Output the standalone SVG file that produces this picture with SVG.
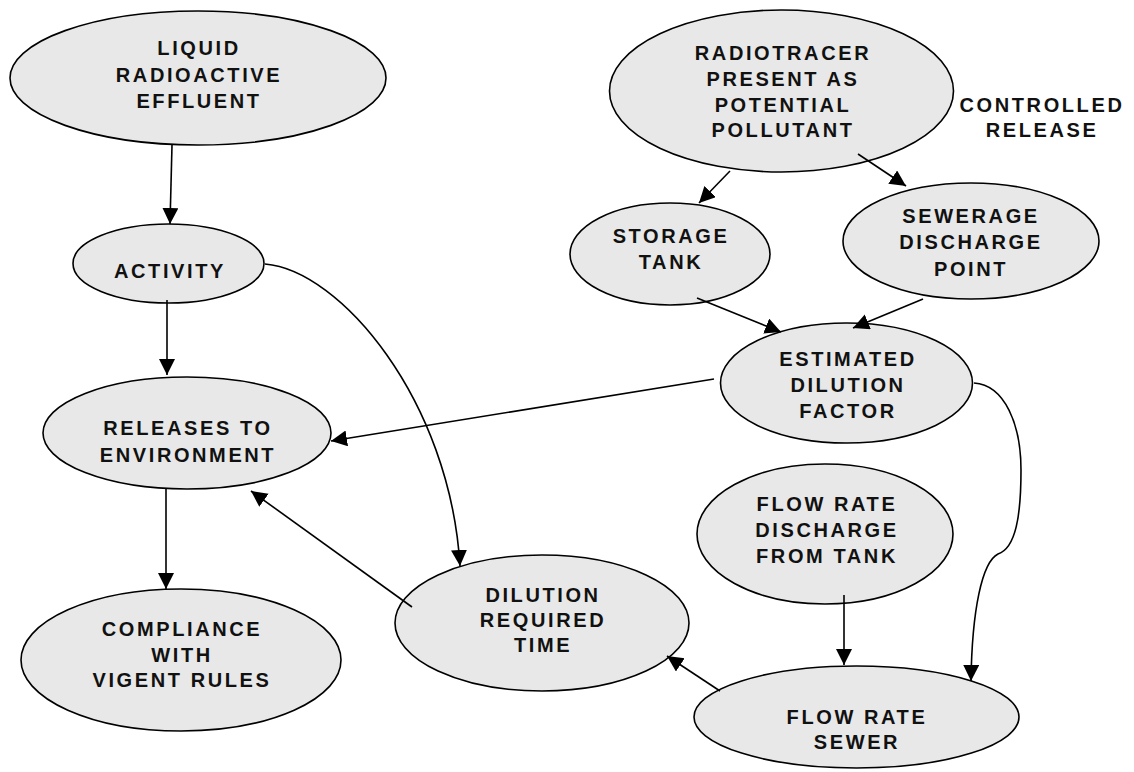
<svg xmlns="http://www.w3.org/2000/svg" width="1134" height="772" viewBox="0 0 1134 772">
<style>
.n{fill:#e8e8e8;stroke:#000;stroke-width:1.6}
.t{font-family:"Liberation Sans",Arial,sans-serif;font-weight:bold;font-size:20px;letter-spacing:2.6px;text-anchor:middle;fill:#111}
.c{fill:none;stroke:#000;stroke-width:1.6}
</style>
<defs>
<marker id="a" markerUnits="userSpaceOnUse" markerWidth="17" markerHeight="17" refX="16" refY="8" orient="auto">
<path d="M0,0 L16,8 L0,16 z" fill="#000"/>
</marker>
</defs>
<rect width="1134" height="772" fill="#fff"/>
<g id="liquid"><ellipse class="n" cx="198" cy="78" rx="188" ry="67"/>
<text class="t" x="199" y="55">LIQUID</text><text class="t" x="199" y="82">RADIOACTIVE</text><text class="t" x="199" y="108">EFFLUENT</text></g>
<g id="radiotracer"><ellipse class="n" cx="781.5" cy="91" rx="172" ry="81"/>
<text class="t" x="783" y="60">RADIOTRACER</text><text class="t" x="783" y="86">PRESENT AS</text><text class="t" x="783" y="112">POTENTIAL</text><text class="t" x="783" y="137">POLLUTANT</text></g>
<g id="controlled"><text class="t" x="1042" y="112">CONTROLLED</text><text class="t" x="1042" y="137">RELEASE</text></g>
<g id="storage"><ellipse class="n" cx="670" cy="254" rx="100" ry="51"/>
<text class="t" x="671" y="243">STORAGE</text><text class="t" x="671" y="269">TANK</text></g>
<g id="sewerage"><ellipse class="n" cx="971" cy="241" rx="128" ry="58"/>
<text class="t" x="971" y="223">SEWERAGE</text><text class="t" x="971" y="249">DISCHARGE</text><text class="t" x="971" y="276">POINT</text></g>
<g id="estimated"><ellipse class="n" cx="846.5" cy="383" rx="126" ry="60"/>
<text class="t" x="848" y="366">ESTIMATED</text><text class="t" x="848" y="392">DILUTION</text><text class="t" x="848" y="418">FACTOR</text></g>
<g id="activity"><ellipse class="n" cx="168.5" cy="263.5" rx="95.5" ry="39.5"/>
<text class="t" x="170" y="278">ACTIVITY</text></g>
<g id="releases"><ellipse class="n" cx="187" cy="433" rx="144" ry="56"/>
<text class="t" x="188" y="435">RELEASES TO</text><text class="t" x="188" y="462">ENVIRONMENT</text></g>
<g id="compliance"><ellipse class="n" cx="181" cy="660" rx="160" ry="71"/>
<text class="t" x="182" y="636">COMPLIANCE</text><text class="t" x="182" y="662">WITH</text><text class="t" x="182" y="687">VIGENT RULES</text></g>
<g id="dilution"><ellipse class="n" cx="542" cy="623" rx="147" ry="68"/>
<text class="t" x="543" y="602">DILUTION</text><text class="t" x="543" y="627">REQUIRED</text><text class="t" x="543" y="652">TIME</text></g>
<g id="flowdischarge"><ellipse class="n" cx="825" cy="534" rx="128" ry="70"/>
<text class="t" x="827" y="511">FLOW RATE</text><text class="t" x="827" y="537">DISCHARGE</text><text class="t" x="827" y="563">FROM TANK</text></g>
<g id="flowsewer"><ellipse class="n" cx="856.5" cy="717" rx="162.5" ry="51"/>
<text class="t" x="857" y="724">FLOW RATE</text><text class="t" x="857" y="749">SEWER</text></g>
<g id="connectors">
<path class="c" marker-end="url(#a)" d="M172,145 L170,224"/>
<path class="c" marker-end="url(#a)" d="M167,300 L167,375"/>
<path class="c" marker-end="url(#a)" d="M166,489 L166,589"/>
<path class="c" marker-end="url(#a)" d="M265,264 C340,270 450,400 460,566"/>
<path class="c" marker-end="url(#a)" d="M714,379 L331,441"/>
<path class="c" marker-end="url(#a)" d="M412,607 L251,491"/>
<path class="c" marker-end="url(#a)" d="M730,171 L699,203"/>
<path class="c" marker-end="url(#a)" d="M858,154 L906,186"/>
<path class="c" marker-end="url(#a)" d="M697,298 L781,332"/>
<path class="c" marker-end="url(#a)" d="M923,299 L853,328"/>
<path class="c" marker-end="url(#a)" d="M974,383 C1005,385 1021,425 1021,470 C1021,515 1016,548 998,554 C982,562 972,610 971,681"/>
<path class="c" marker-end="url(#a)" d="M844,595 L844,665"/>
<path class="c" marker-end="url(#a)" d="M720,691 L667,656"/>
</g>
</svg>
